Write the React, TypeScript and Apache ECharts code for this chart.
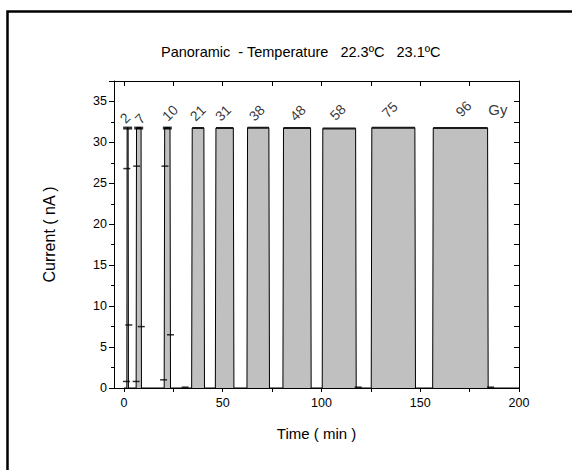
import React, { useEffect, useRef } from "react";
import * as echarts from "echarts";

// Pulse timing (min) and plateau current (nA)
const pulseStarts = [1.5, 6.2, 20.4, 34.3, 46.3, 62.3, 80.5, 100.4, 125.2, 156.3];
const pulseEnds = [2.3, 8.9, 23.6, 40.8, 55.7, 73.7, 94.8, 117.6, 147.6, 184.4];
const pulseLevels = [31.75, 31.75, 31.75, 31.75, 31.75, 31.8, 31.75, 31.7, 31.8, 31.75];
const riseTimes = [0.15, 0.2, 0.25, 0.3, 0.3, 0.3, 0.3, 0.3, 0.3, 0.3];

// Transient readings shown as short dashes
const dashTimes = [1.3, 1.5, 2.5, 6.2, 6.5, 8.8, 20.1, 20.8, 23.6, 31.0, 118.6, 185.6];
const dashValues = [0.8, 26.8, 7.7, 0.8, 27.1, 7.5, 1.0, 27.1, 6.5, 0.1, 0.1, 0.1];
const topDashTimes = [1.9, 7.5, 22.0];
const topDashValues = [31.75, 31.75, 31.75];

// Dose labels
const doseLabels = ["2", "7", "10", "21", "31", "38", "48", "58", "75", "96", "Gy"];
const doseLabelTimes = [0.5, 8.1, 23.3, 37.4, 50.1, 67.2, 88.0, 108.2, 134.5, 171.9, 189.3];
const doseLabelValues = [33.0, 32.9, 33.6, 33.6, 33.6, 33.6, 33.6, 33.7, 34.0, 34.1, 34.0];

const xTickValues = [0, 25, 50, 75, 100, 125, 150, 175, 200];
const xLabelValues = [0, 50, 100, 150, 200];

const FONT = "Liberation Sans, Arial, sans-serif";

export default function App() {
  const ref = useRef<HTMLDivElement>(null);
  useEffect(() => {
    if (!ref.current) return;
    const chart = echarts.init(ref.current, undefined, { renderer: "svg" });

    const lineData: any[] = [[0, 0]];
    const topData: any[] = [];
    for (let i = 0; i < pulseStarts.length; i++) {
      const s = pulseStarts[i];
      const e = pulseEnds[i];
      const r = riseTimes[i];
      const l = pulseLevels[i];
      lineData.push([s, 0], [s + r, l], [e - r, l], [e, 0]);
      topData.push([s + r, l], [e - r, l], [e, "-"]);
    }
    lineData.push([200, 0]);

    const dashData = dashTimes.map((t, i) => [t, dashValues[i]]);
    const topDashData = topDashTimes.map((t, i) => [t, topDashValues[i]]);
    const labelData = doseLabels.map((name, i) => ({
      name,
      value: [doseLabelTimes[i], doseLabelValues[i]],
      label: name === "Gy" ? { rotate: 0, fontSize: 15 } : undefined,
    }));

    chart.setOption({
      animation: false,
      backgroundColor: "#fff",
      title: {
        text: "Panoramic  - Temperature   22.3ºC   23.1ºC",
        left: 161,
        top: 44,
        padding: 0,
        textStyle: { fontFamily: FONT, fontSize: 14.5, fontWeight: "normal", color: "#000" },
      },
      graphic: [
        {
          type: "rect",
          shape: { x: 7.5, y: 11.5, width: 620, height: 520 },
          style: { fill: "none", stroke: "#000", lineWidth: 2.5 },
          silent: true,
        },
      ],
      grid: { left: 114, right: 53, top: 81, bottom: 82, containLabel: false },
      xAxis: [
        {
          type: "value",
          min: -5,
          max: 200,
          position: "bottom",
          name: "Time ( min )",
          nameLocation: "middle",
          nameGap: 38,
          nameTextStyle: { fontFamily: FONT, fontSize: 15, color: "#000" },
          axisLine: { show: true, onZero: false, lineStyle: { color: "#000", width: 1 } },
          axisTick: { show: true, inside: false, length: 4, customValues: xTickValues, lineStyle: { color: "#000" } },
          axisLabel: { show: true, customValues: xLabelValues, fontFamily: FONT, fontSize: 12.5, color: "#000", margin: 8 },
          splitLine: { show: false },
        },
        {
          type: "value",
          min: -5,
          max: 200,
          position: "top",
          axisLine: { show: true, onZero: false, lineStyle: { color: "#000", width: 1 } },
          axisTick: { show: true, inside: true, length: 5, customValues: xTickValues, lineStyle: { color: "#000" } },
          axisLabel: { show: false },
          splitLine: { show: false },
        },
      ],
      yAxis: [
        {
          type: "value",
          min: 0,
          max: 37.5,
          interval: 5,
          position: "left",
          name: "Current ( nA )",
          nameLocation: "middle",
          nameGap: 57,
          nameTextStyle: { fontFamily: FONT, fontSize: 16, color: "#000" },
          axisLine: { show: true, onZero: false, lineStyle: { color: "#000", width: 1 } },
          axisTick: { show: true, inside: false, length: 5, lineStyle: { color: "#000" } },
          minorTick: { show: true, splitNumber: 2, length: 3, lineStyle: { color: "#000" } },
          axisLabel: { show: true, showMaxLabel: false, fontFamily: FONT, fontSize: 12.5, color: "#000", margin: 7 },
          splitLine: { show: false },
        },
        {
          type: "value",
          min: 0,
          max: 37.5,
          interval: 5,
          position: "right",
          axisLine: { show: true, onZero: false, lineStyle: { color: "#000", width: 1 } },
          axisTick: { show: true, inside: true, length: 5, lineStyle: { color: "#000" } },
          minorTick: { show: true, splitNumber: 2, length: 5, lineStyle: { color: "#000" } },
          axisLabel: { show: false },
          splitLine: { show: false },
        },
      ],
      series: [
        {
          type: "line",
          data: lineData,
          showSymbol: false,
          symbol: "none",
          lineStyle: { color: "#000", width: 1 },
          areaStyle: { color: "#c0c0c0", opacity: 1, origin: "start" },
          z: 2,
        },
        {
          type: "line",
          data: topData,
          showSymbol: false,
          symbol: "none",
          lineStyle: { color: "#1a1a1a", width: 2 },
          z: 3,
        },
        {
          type: "scatter",
          data: dashData,
          symbol: "rect",
          symbolSize: [7, 1.5],
          itemStyle: { color: "#000" },
          z: 4,
        },
        {
          type: "scatter",
          data: topDashData,
          symbol: "rect",
          symbolSize: [9, 3],
          itemStyle: { color: "#000" },
          z: 4,
        },
        {
          type: "scatter",
          data: labelData,
          symbolSize: 0,
          label: {
            show: true,
            position: "inside",
            formatter: "{b}",
            rotate: 45,
            align: "center",
            verticalAlign: "middle",
            fontFamily: FONT,
            fontSize: 14,
            color: "#000",
          },
          z: 5,
        },
      ],
    });
    return () => chart.dispose();
  }, []);

  return (
    <div
      ref={ref}
      style={{ position: "fixed", left: 0, top: 0, width: 572, height: 470, background: "#fff" }}
    />
  );
}
